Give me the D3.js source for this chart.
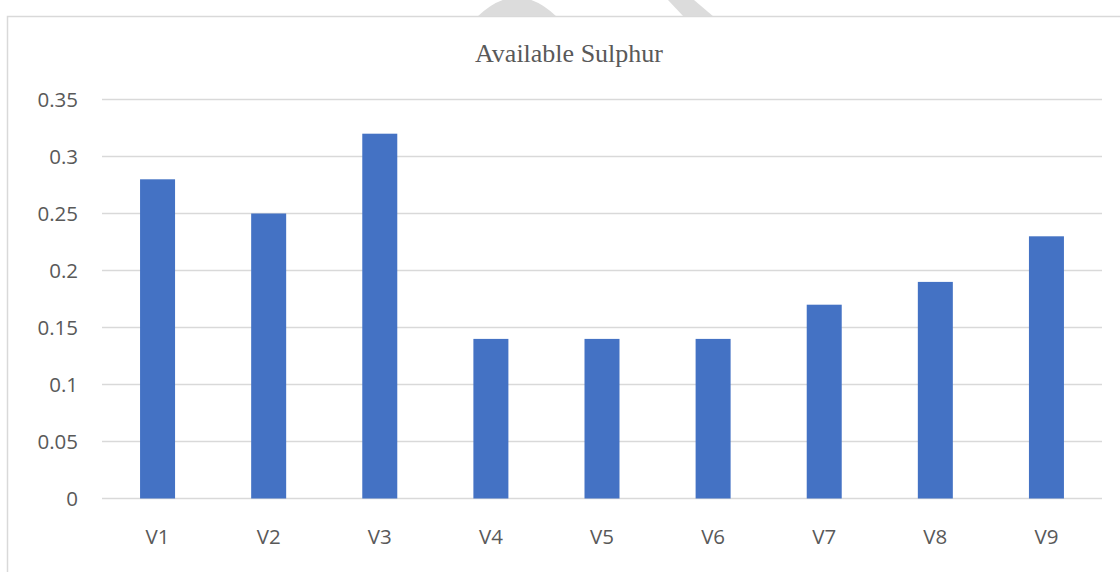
<!DOCTYPE html>
<html>
<head>
<meta charset="utf-8">
<script src="https://cdn.jsdelivr.net/npm/d3@7"></script>
<style>
  body { margin: 0; background: #fff; }
  svg { display: block; }
</style>
</head>
<body>
<svg id="chart" width="1120" height="572"></svg>
<script>
var categories = ['V1', 'V2', 'V3', 'V4', 'V5', 'V6', 'V7', 'V8', 'V9'];
var sulphur = [0.28, 0.25, 0.32, 0.14, 0.14, 0.14, 0.17, 0.19, 0.23];
var yTicks = [0, 0.05, 0.1, 0.15, 0.2, 0.25, 0.3, 0.35];
var title = 'Available Sulphur';

var svg = d3.select('#chart');

// faint watermark bits peeking above the chart frame
var mark = svg.append('g').attr('fill', '#dcdcdc');
mark.append('path').attr('d', 'M477,17 Q517,-22 557,17 Z');
mark.append('path').attr('d', 'M668,0 L694,0 L714,17 L684,17 Z');

// chart frame
svg.append('rect')
    .attr('x', 7.5)
    .attr('y', 16.5)
    .attr('width', 1140)
    .attr('height', 600)
    .attr('fill', '#fff')
    .attr('stroke', '#d9d9d9')
    .attr('stroke-width', 1.5);

var plotLeft = 102, plotRight = 1102, plotTop = 99.5, plotBottom = 498.5;

var x = d3.scaleBand()
    .domain(categories)
    .range([plotLeft, plotRight]);

var y = d3.scaleLinear()
    .domain([0, 0.35])
    .range([plotBottom, plotTop]);

// gridlines
svg.append('g')
    .selectAll('line')
    .data(yTicks)
    .enter()
    .append('line')
    .attr('x1', plotLeft)
    .attr('x2', plotRight)
    .attr('y1', function(d) { return y(d); })
    .attr('y2', function(d) { return y(d); })
    .attr('stroke', '#d9d9d9')
    .attr('stroke-width', 1.5);

// y axis labels
var yAxis = d3.axisLeft(y)
    .tickValues(yTicks)
    .tickFormat(function(d) { return String(+d.toFixed(2)); })
    .tickSize(0)
    .tickPadding(24);

svg.append('g')
    .attr('transform', 'translate(' + plotLeft + ',0)')
    .call(yAxis)
    .call(function(g) { g.select('.domain').remove(); })
    .selectAll('text')
    .attr('font-family', '"Open Sans", sans-serif')
    .attr('font-size', '20.5px')
    .attr('fill', '#595959');

// bars
var barW = x.bandwidth() * 0.315;
svg.append('g')
    .selectAll('rect')
    .data(sulphur)
    .enter()
    .append('rect')
    .attr('x', function(d, i) { return x(categories[i]) + x.bandwidth() / 2 - barW / 2; })
    .attr('y', function(d) { return y(d); })
    .attr('width', barW)
    .attr('height', function(d) { return y(0) - y(d); })
    .attr('fill', '#4472c4');

// x axis labels
var xAxis = d3.axisBottom(x).tickSize(0).tickPadding(31);
svg.append('g')
    .attr('transform', 'translate(0,' + plotBottom + ')')
    .call(xAxis)
    .call(function(g) { g.select('.domain').remove(); })
    .selectAll('text')
    .attr('font-family', '"Open Sans", sans-serif')
    .attr('font-size', '20.5px')
    .attr('fill', '#595959');

// title
svg.append('text')
    .attr('x', 569)
    .attr('y', 62)
    .attr('text-anchor', 'middle')
    .attr('font-family', '"Liberation Serif", "Times New Roman", serif')
    .attr('font-size', '26px')
    .attr('fill', '#595959')
    .text(title);
</script>
</body>
</html>
